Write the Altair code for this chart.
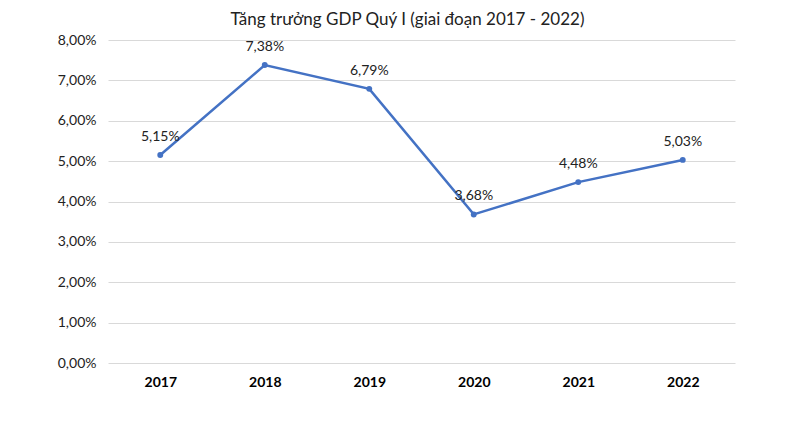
import altair as alt
import pandas as pd

years = ["2017", "2018", "2019", "2020", "2021", "2022"]
growth = [5.15, 7.38, 6.79, 3.68, 4.48, 5.03]
labels = ["5,15%", "7,38%", "6,79%", "3,68%", "4,48%", "5,03%"]
y_ticks = [0, 1, 2, 3, 4, 5, 6, 7, 8]

df = pd.DataFrame({"year": years, "growth": growth, "label": labels})

FONT = "Lato"
BLUE = "#4472C4"

x = alt.X("year:O", scale=alt.Scale(type="point", padding=0.5),
          axis=alt.Axis(title=None, labelAngle=0, labelFontWeight="bold",
                        labelFontSize=14, labelColor="#000000", labelPadding=12,
                        domain=False, ticks=False, labelFont=FONT))
y = alt.Y("growth:Q", scale=alt.Scale(domain=[0, 8], nice=False),
          axis=alt.Axis(title=None, values=y_ticks,
                        labelExpr="replace(format(datum.value, '.2f'), '.', ',') + '%'",
                        labelFontSize=14, labelColor="#222222", labelPadding=12,
                        domain=False, ticks=False, gridColor="#d9d9d9",
                        gridWidth=1, labelFont=FONT))

base = alt.Chart(df)
line = base.mark_line(color=BLUE, strokeWidth=2.5).encode(x=x, y=y)
pts = base.mark_point(color=BLUE, filled=True, size=35, opacity=1).encode(x=x, y=y)
txt = base.mark_text(dy=-18, fontSize=14, font=FONT, color="#222222").encode(
    x=x, y=y, text="label:N")

chart = (line + pts + txt).properties(
    width=627, height=323,
    title=alt.TitleParams("Tăng trưởng GDP Quý I (giai đoạn 2017 - 2022)",
                          fontSize=17, font=FONT, fontWeight="normal",
                          color="#222222", offset=4, dx=-14),
    autosize=alt.AutoSizeParams(type="none"),
    padding={"left": 100, "top": 32, "right": 60, "bottom": 52},
).configure(background="white", view=alt.ViewConfig(stroke=None))

chart.save("out.html", embed_options={"renderer": "svg", "actions": False})
